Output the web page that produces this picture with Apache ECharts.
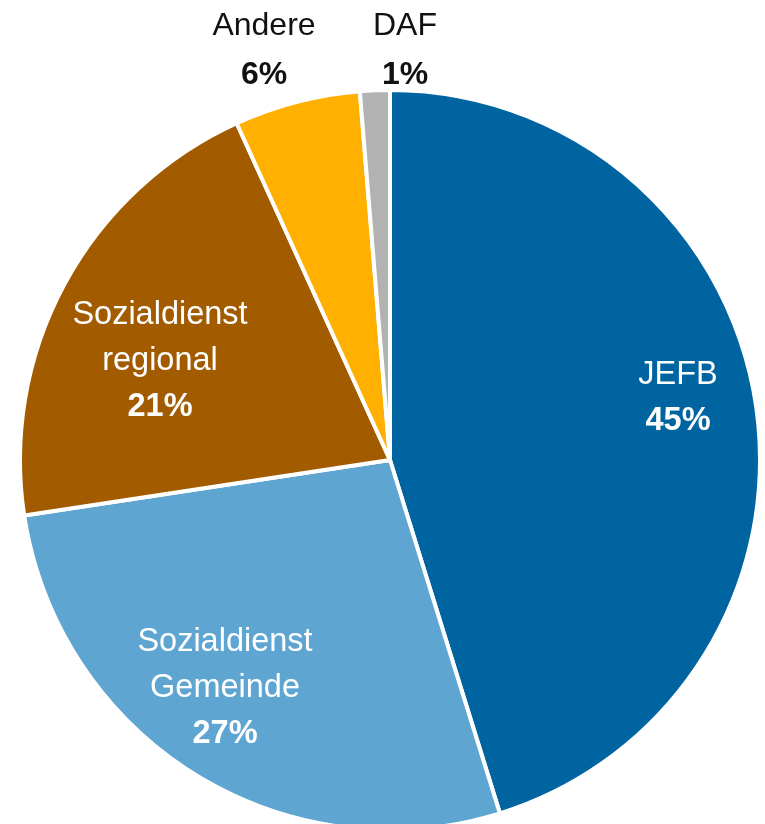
<!DOCTYPE html>
<html>
<head>
<meta charset="utf-8">
<script src="https://cdn.jsdelivr.net/npm/echarts@6/dist/echarts.min.js"></script>
<style>
html,body{margin:0;padding:0;background:#fff;}
#c{width:765px;height:824px;}
</style>
</head>
<body>
<div id="c"></div>
<script>
// Data
const categories = ['JEFB', 'Sozialdienst\nGemeinde', 'Sozialdienst\nregional', 'Andere', 'DAF'];
const values = [45.2, 27.4, 20.6, 5.5, 1.3];
const colors = ['#0064A1', '#5EA5D2', '#A35B00', '#FFB000', '#B2B2B2'];

// Layout (not data)
const CX = 390, CY = 460, R = 370;
const labelOffsets = [[288, -62], [-165, 228], [-230, -99], [-126, -409], [15, -409]];
const insideLabel = [true, true, true, false, false];

const chart = echarts.init(document.getElementById('c'), null, {renderer: 'canvas'});
const FONT = '"Liberation Sans", Arial, sans-serif';

const seriesData = categories.map((c, i) => ({
  name: c,
  value: values[i],
  itemStyle: {color: colors[i]},
  label: insideLabel[i] ? {
    rich: {
      n: {color: '#fff', fontSize: 32.5, fontFamily: FONT, lineHeight: 46},
      p: {color: '#fff', fontSize: 32.5, fontFamily: FONT, fontWeight: 'bold', lineHeight: 46}
    }
  } : {
    rich: {
      n: {color: '#111', fontSize: 32, fontFamily: FONT, lineHeight: 49},
      p: {color: '#111', fontSize: 32, fontFamily: FONT, fontWeight: 'bold', lineHeight: 49}
    }
  }
}));

chart.setOption({
  animation: false,
  backgroundColor: '#fff',
  series: [{
    type: 'pie',
    center: [CX, CY],
    radius: [0, R],
    startAngle: 90,
    clockwise: true,
    avoidLabelOverlap: false,
    itemStyle: {borderColor: '#fff', borderWidth: 4},
    label: {
      show: true,
      position: 'inside',
      align: 'center',
      formatter: function (p) {
        const lines = p.name.split('\n').map(s => '{n|' + s + '}');
        lines.push('{p|' + Math.round(p.value) + '%}');
        return lines.join('\n');
      }
    },
    labelLine: {show: false},
    labelLayout: function (params) {
      const o = labelOffsets[params.dataIndex];
      return {x: CX + o[0], y: CY + o[1], align: 'center', verticalAlign: 'middle'};
    },
    emphasis: {disabled: true},
    data: seriesData
  }]
});
</script>
</body>
</html>
